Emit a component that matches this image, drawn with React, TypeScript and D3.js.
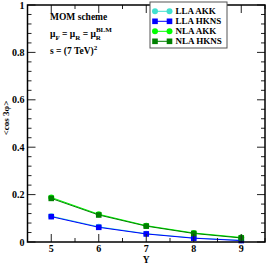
import React from "react";
import * as d3 from "d3";

const rapidities = [5, 6, 7, 8, 9];
const llaAKK = [0.109, 0.064, 0.035, 0.017, 0.007];
const llaHKNS = [0.107, 0.062, 0.034, 0.016, 0.006];
const nlaAKK = [0.188, 0.117, 0.069, 0.038, 0.019];
const nlaHKNS = [0.184, 0.114, 0.067, 0.036, 0.017];
const seriesNames = ["LLA AKK", "LLA HKNS", "NLA AKK", "NLA HKNS"];
const seriesColors = ["#40E0D0", "#0000FF", "#00FF00", "#008000"];
const seriesShapes = ["circle", "square", "circle", "square"];
const xTicks = [5, 6, 7, 8, 9];
const yTicks = [0, 0.2, 0.4, 0.6, 0.8, 1];
const yTickLabels = ["0", "0.2", "0.4", "0.6", "0.8", "1"];

const W = 267, H = 263;
const L = 27.5, R = 265, T = 5, B = 242;

export default function App() {
  const x = d3.scaleLinear().domain([4.5, 9.5]).range([L, R]);
  const y = d3.scaleLinear().domain([0, 1]).range([B, T]);
  const all = [llaAKK, llaHKNS, nlaAKK, nlaHKNS];
  const line = d3.line<number>().x((_, i) => x(rapidities[i])).y((d) => y(d));
  const xMinor = d3.range(4.5, 9.51, 0.5).filter((v) => !xTicks.includes(v));
  const yMinor = d3.range(0, 1.001, 0.04).map((v) => +v.toFixed(2)).filter((v) => Math.abs(v * 5 - Math.round(v * 5)) > 1e-6);
  const font = "'Liberation Serif', 'DejaVu Serif', serif";

  const marker = (shape: string, cx: number, cy: number, color: string, key: string) =>
    shape === "circle" ? (
      <circle key={key} cx={cx} cy={cy} r={3} fill={color} />
    ) : (
      <rect key={key} x={cx - 2.8} y={cy - 2.8} width={5.6} height={5.6} fill={color} />
    );

  return (
    <svg width={W} height={H} style={{ position: "absolute", left: 0, top: 0, background: "#fff" }} fontFamily={font}>
      <rect x={0} y={0} width={W} height={H} fill="#fff" />
      {all.map((vals, s) => (
        <g key={s}>
          <path d={line(vals) || ""} fill="none" stroke={seriesColors[s]} strokeWidth={1} />
          {vals.map((v, i) => marker(seriesShapes[s], x(rapidities[i]), y(v), seriesColors[s], `${s}-${i}`))}
        </g>
      ))}
      <g stroke="#222" strokeWidth={1}>
        {xTicks.map((t) => (
          <g key={"xt" + t}>
            <line x1={x(t)} x2={x(t)} y1={B} y2={B - 8} />
            <line x1={x(t)} x2={x(t)} y1={T} y2={T + 8} />
          </g>
        ))}
        {xMinor.map((t) => (
          <g key={"xm" + t}>
            <line x1={x(t)} x2={x(t)} y1={B} y2={B - 4} />
            <line x1={x(t)} x2={x(t)} y1={T} y2={T + 4} />
          </g>
        ))}
        {yTicks.map((t) => (
          <g key={"yt" + t}>
            <line x1={L} x2={L + 8} y1={y(t)} y2={y(t)} />
            <line x1={R} x2={R - 8} y1={y(t)} y2={y(t)} />
          </g>
        ))}
        {yMinor.map((t) => (
          <g key={"ym" + t}>
            <line x1={L} x2={L + 4} y1={y(t)} y2={y(t)} />
            <line x1={R} x2={R - 4} y1={y(t)} y2={y(t)} />
          </g>
        ))}
      </g>
      <rect x={L} y={T} width={R - L} height={B - T} fill="none" stroke="#000" strokeWidth={1.5} />
      <g fontSize={10} fontWeight="bold" fill="#000">
        {yTicks.map((t, i) => (
          <text key={"yl" + t} x={L - 3} y={y(t)} dy="0.35em" textAnchor="end">{yTickLabels[i]}</text>
        ))}
        {xTicks.map((t) => (
          <text key={"xl" + t} x={x(t)} y={252} textAnchor="middle">{t}</text>
        ))}
        <text x={x(7)} y={262.5} textAnchor="middle" fontSize={9.5}>Y</text>
        <text transform={`translate(9,118) rotate(-90)`} textAnchor="middle" fontSize={9}>{"<cos 3φ>"}</text>
      </g>
      <g fontSize={9.5} fontWeight="bold" fill="#000">
        <text x={50} y={20}>MOM scheme</text>
        <text x={50} y={37}>
          μ<tspan fontSize={7} dy={2.5}>F</tspan>
          <tspan dy={-2.5}> = μ</tspan>
          <tspan fontSize={7} dy={2.5}>R</tspan>
          <tspan dy={-2.5}> = μ</tspan>
          <tspan fontSize={7} dy={2.5}>R</tspan>
          <tspan fontSize={7} dy={-8} dx={-5}>BLM</tspan>
        </text>
        <text x={50} y={54}>
          s = (7 TeV)<tspan fontSize={7} dy={-4.5}>2</tspan>
        </text>
      </g>
      <g>
        <rect x={150} y={2} width={77} height={46} fill="#fff" stroke="#555" strokeWidth={1} />
        {seriesNames.map((n, i) => {
          const ly = 11.3 + i * 10;
          return (
            <g key={n}>
              <line x1={155} x2={169.5} y1={ly} y2={ly} stroke={seriesColors[i]} strokeWidth={1} />
              {marker(seriesShapes[i], 155, ly, seriesColors[i], "a" + i)}
              {marker(seriesShapes[i], 169.5, ly, seriesColors[i], "b" + i)}
              <text x={175.5} y={ly} dy="0.35em" fontSize={9} fontWeight="bold">{n}</text>
            </g>
          );
        })}
      </g>
    </svg>
  );
}
